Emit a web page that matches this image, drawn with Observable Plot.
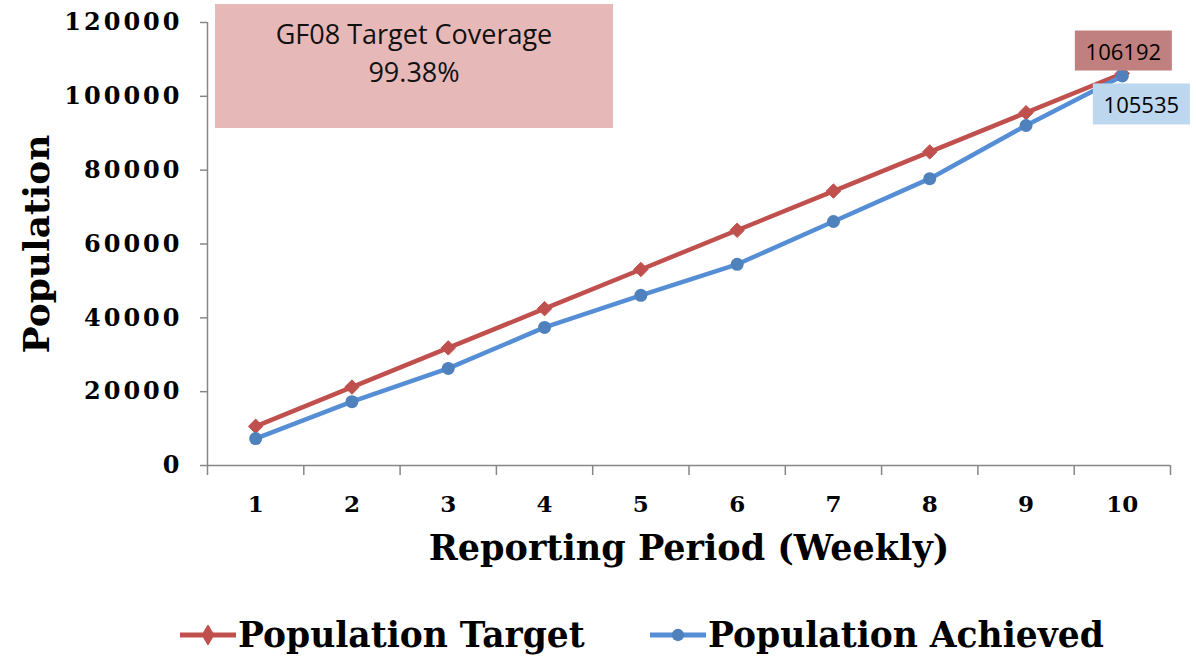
<!DOCTYPE html>
<html>
<head>
<meta charset="utf-8">
<script src="https://cdn.jsdelivr.net/npm/d3@7"></script>
<script src="https://cdn.jsdelivr.net/npm/@observablehq/plot@0.6"></script>
<style>
  html, body { margin: 0; padding: 0; background: #fff; }
  #wrap { position: relative; width: 1196px; height: 661px; overflow: hidden; }
  #note { position: absolute; left: 215px; top: 4px; width: 398px; height: 124px; background: #E6B9B8;
          font-family: "Open Sans", sans-serif; font-size: 27px; line-height: 38px; text-align: center;
          color: #111; padding-top: 11px; box-sizing: border-box; }
  #legend { position: absolute; left: 0; top: 608px; width: 1196px; height: 53px; }
  #legend .item { position: absolute; top: 0; height: 53px; display: flex; align-items: center;
          font-family: "DejaVu Serif", serif; font-weight: bold; font-size: 34.5px; color: #000; }
  .ytick text { letter-spacing: 3px; }
</style>
</head>
<body>
<div id="wrap">
  <div id="chart"></div>
  <div id="note">GF08 Target Coverage<br>99.38%</div>
  <div id="legend"></div>
</div>
<script>
const weeks = [1, 2, 3, 4, 5, 6, 7, 8, 9, 10];
const targetValues = [10620, 21240, 31860, 42480, 53100, 63720, 74340, 84950, 95570, 106192];
const achievedValues = [7300, 17300, 26300, 37400, 46100, 54500, 66100, 77700, 92100, 105535];
const yTicks = [0, 20000, 40000, 60000, 80000, 100000, 120000];
const seriesNames = ["Population Target", "Population Achieved"];
const xTitle = "Reporting Period (Weekly)";
const yTitle = "Population";

const red = "#C0504D", blueLine = "#558ED5", blueDot = "#4F81BD";
const redBox = "#C18080", blueBox = "#BDD7EE";
const gray = "#868686";

const target = weeks.map((w, i) => ({week: w, value: targetValues[i]}));
const achieved = weeks.map((w, i) => ({week: w, value: achievedValues[i]}));
const boundaries = [...weeks.map(w => w - 0.5), weeks[weeks.length - 1] + 0.5];
const lastT = target[target.length - 1];
const lastA = achieved[achieved.length - 1];

const serif = "DejaVu Serif";

const plot = Plot.plot({
  width: 1196,
  height: 600,
  marginTop: 22,
  marginBottom: 135,
  marginLeft: 207,
  marginRight: 26,
  style: {background: "#fff", fontFamily: serif},
  x: {type: "linear", domain: [0.5, 10.5]},
  y: {domain: [0, 120000]},
  marks: [
    Plot.axisY({ticks: yTicks, tickSize: 7, tickPadding: 18, stroke: gray, strokeWidth: 1.5,
      tickFormat: d => String(d), fontSize: 24, fontWeight: "bold", fill: "#000", label: null, className: "ytick"}),
    Plot.axisX({ticks: boundaries, tickSize: 10, stroke: gray, strokeWidth: 1.5, tickFormat: () => "", label: null}),
    Plot.axisX({ticks: weeks, tickSize: 0, tickPadding: 30, tickFormat: d => String(d),
      fontSize: 23, fontWeight: "bold", fill: "#000", label: null}),
    Plot.ruleX([0.5], {stroke: gray, strokeWidth: 1.5}),
    Plot.ruleY([0], {stroke: gray, strokeWidth: 1.5}),
    Plot.text([yTitle], {frameAnchor: "left", textAnchor: "middle", dx: -170, rotate: -90, fontSize: 36, fontWeight: "bold", fill: "#000"}),
    Plot.text([xTitle], {frameAnchor: "bottom", dy: 94, fontSize: 35, fontWeight: "bold", fill: "#000"}),
    Plot.line(target, {x: "week", y: "value", stroke: red, strokeWidth: 4.5}),
    Plot.line(achieved, {x: "week", y: "value", stroke: blueLine, strokeWidth: 4.5}),
    Plot.dot(target, {x: "week", y: "value", symbol: "diamond2", r: 6.5, fill: red, stroke: red, strokeWidth: 1}),
    Plot.dot(achieved, {x: "week", y: "value", symbol: "circle", r: 6.5, fill: blueDot}),
    Plot.text([lastT], {x: "week", y: "value", text: d => String(d.value), dx: 1, dy: -21,
      fontFamily: "Open Sans", fontSize: 22, fill: "#000", className: "lbl-red"}),
    Plot.text([lastA], {x: "week", y: "value", text: d => String(d.value), dx: 19, dy: 30,
      fontFamily: "Open Sans", fontSize: 22, fill: "#000", className: "lbl-blue"})
  ]
});
document.getElementById("chart").appendChild(plot);

// background boxes behind the data labels
function boxBehind(cls, color, w, h) {
  plot.querySelectorAll("g." + cls + " text").forEach(t => {
    const b = t.getBBox();
    const cx = b.x + b.width / 2, cy = b.y + b.height / 2;
    const r = document.createElementNS("http://www.w3.org/2000/svg", "rect");
    r.setAttribute("x", cx - w / 2); r.setAttribute("y", cy - h / 2);
    r.setAttribute("width", w); r.setAttribute("height", h);
    r.setAttribute("fill", color);
    const tr = t.getAttribute("transform");
    if (tr) r.setAttribute("transform", tr);
    t.parentNode.insertBefore(r, t);
  });
}
boxBehind("lbl-red", redBox, 97, 40);
boxBehind("lbl-blue", blueBox, 97, 41);

// legend
const legend = d3.select("#legend");
const items = [
  {name: seriesNames[0], color: red, dot: red, symbol: d3.symbolDiamond, left: 180},
  {name: seriesNames[1], color: blueLine, dot: blueDot, symbol: d3.symbolCircle, left: 650}
];
items.forEach(it => {
  const div = legend.append("div").attr("class", "item").style("left", it.left + "px");
  const s = div.append("svg").attr("width", 56).attr("height", 20).style("margin-right", "2px");
  s.append("line").attr("x1", 0).attr("x2", 56).attr("y1", 10).attr("y2", 10)
    .attr("stroke", it.color).attr("stroke-width", 5);
  s.append("path").attr("transform", "translate(28,10)")
    .attr("d", d3.symbol(it.symbol, it.symbol === d3.symbolDiamond ? 140 : 120)()).attr("fill", it.dot);
  div.append("span").text(it.name);
});
</script>
</body>
</html>
